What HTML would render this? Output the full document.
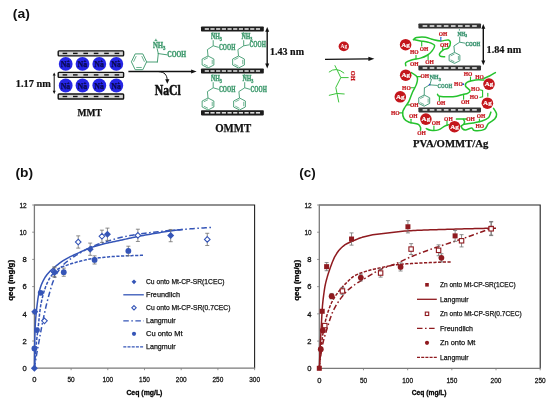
<!DOCTYPE html>
<html><head><meta charset="utf-8"><title>figure</title>
<style>
html,body{margin:0;padding:0;background:#fff;}
body{width:550px;height:403px;overflow:hidden;font-family:"Liberation Sans",sans-serif;}
svg{display:block;filter:blur(0.4px);}
svg text{white-space:pre;}
</style></head><body>
<svg width="550" height="403" viewBox="0 0 550 403">
<rect x="0" y="0" width="550" height="403" fill="#ffffff"/>
<text x="12.8" y="18.2" font-family="Liberation Sans" font-weight="bold" font-size="13.2" fill="#111" textLength="17" lengthAdjust="spacingAndGlyphs">(a)</text>
<rect x="58.2" y="50.9" width="65.4" height="5" rx="0.8" fill="#d4d4d4" stroke="#111" stroke-width="1.4"/><rect x="62.6" y="52.7" width="4.6" height="1.4" fill="#111"/><rect x="73" y="52.7" width="4.6" height="1.4" fill="#111"/><rect x="83.4" y="52.7" width="4.6" height="1.4" fill="#111"/><rect x="93.8" y="52.7" width="4.6" height="1.4" fill="#111"/><rect x="104.2" y="52.7" width="4.6" height="1.4" fill="#111"/><rect x="114.6" y="52.7" width="4.6" height="1.4" fill="#111"/>
<rect x="58.2" y="72.4" width="65.4" height="5" rx="0.8" fill="#d4d4d4" stroke="#111" stroke-width="1.4"/><rect x="62.6" y="74.2" width="4.6" height="1.4" fill="#111"/><rect x="73" y="74.2" width="4.6" height="1.4" fill="#111"/><rect x="83.4" y="74.2" width="4.6" height="1.4" fill="#111"/><rect x="93.8" y="74.2" width="4.6" height="1.4" fill="#111"/><rect x="104.2" y="74.2" width="4.6" height="1.4" fill="#111"/><rect x="114.6" y="74.2" width="4.6" height="1.4" fill="#111"/>
<rect x="58.2" y="94" width="65.4" height="5" rx="0.8" fill="#d4d4d4" stroke="#111" stroke-width="1.4"/><rect x="62.6" y="95.8" width="4.6" height="1.4" fill="#111"/><rect x="73" y="95.8" width="4.6" height="1.4" fill="#111"/><rect x="83.4" y="95.8" width="4.6" height="1.4" fill="#111"/><rect x="93.8" y="95.8" width="4.6" height="1.4" fill="#111"/><rect x="104.2" y="95.8" width="4.6" height="1.4" fill="#111"/><rect x="114.6" y="95.8" width="4.6" height="1.4" fill="#111"/>
<circle cx="65.7" cy="63.9" r="6.9" fill="#2626e6"/>
<text x="65.5" y="66.9" text-anchor="middle" font-family="Liberation Serif" font-weight="bold" font-size="7.8" fill="#0a0a50" stroke="#0a0a50" stroke-width="0.25">Na</text>
<text x="68.10000000000001" y="61.9" text-anchor="middle" font-family="Liberation Serif" font-weight="bold" font-size="5" fill="#0a0a50" stroke="#0a0a50" stroke-width="0.25">+</text>
<circle cx="82.5" cy="63.9" r="6.9" fill="#2626e6"/>
<text x="82.3" y="66.9" text-anchor="middle" font-family="Liberation Serif" font-weight="bold" font-size="7.8" fill="#0a0a50" stroke="#0a0a50" stroke-width="0.25">Na</text>
<text x="84.9" y="61.9" text-anchor="middle" font-family="Liberation Serif" font-weight="bold" font-size="5" fill="#0a0a50" stroke="#0a0a50" stroke-width="0.25">+</text>
<circle cx="99.3" cy="63.9" r="6.9" fill="#2626e6"/>
<text x="99.1" y="66.9" text-anchor="middle" font-family="Liberation Serif" font-weight="bold" font-size="7.8" fill="#0a0a50" stroke="#0a0a50" stroke-width="0.25">Na</text>
<text x="101.7" y="61.9" text-anchor="middle" font-family="Liberation Serif" font-weight="bold" font-size="5" fill="#0a0a50" stroke="#0a0a50" stroke-width="0.25">+</text>
<circle cx="116.3" cy="63.9" r="6.9" fill="#2626e6"/>
<text x="116.1" y="66.9" text-anchor="middle" font-family="Liberation Serif" font-weight="bold" font-size="7.8" fill="#0a0a50" stroke="#0a0a50" stroke-width="0.25">Na</text>
<text x="118.7" y="61.9" text-anchor="middle" font-family="Liberation Serif" font-weight="bold" font-size="5" fill="#0a0a50" stroke="#0a0a50" stroke-width="0.25">+</text>
<circle cx="65.7" cy="85.5" r="6.9" fill="#2626e6"/>
<text x="65.5" y="88.5" text-anchor="middle" font-family="Liberation Serif" font-weight="bold" font-size="7.8" fill="#0a0a50" stroke="#0a0a50" stroke-width="0.25">Na</text>
<text x="68.10000000000001" y="83.5" text-anchor="middle" font-family="Liberation Serif" font-weight="bold" font-size="5" fill="#0a0a50" stroke="#0a0a50" stroke-width="0.25">+</text>
<circle cx="82.5" cy="85.5" r="6.9" fill="#2626e6"/>
<text x="82.3" y="88.5" text-anchor="middle" font-family="Liberation Serif" font-weight="bold" font-size="7.8" fill="#0a0a50" stroke="#0a0a50" stroke-width="0.25">Na</text>
<text x="84.9" y="83.5" text-anchor="middle" font-family="Liberation Serif" font-weight="bold" font-size="5" fill="#0a0a50" stroke="#0a0a50" stroke-width="0.25">+</text>
<circle cx="99.3" cy="85.5" r="6.9" fill="#2626e6"/>
<text x="99.1" y="88.5" text-anchor="middle" font-family="Liberation Serif" font-weight="bold" font-size="7.8" fill="#0a0a50" stroke="#0a0a50" stroke-width="0.25">Na</text>
<text x="101.7" y="83.5" text-anchor="middle" font-family="Liberation Serif" font-weight="bold" font-size="5" fill="#0a0a50" stroke="#0a0a50" stroke-width="0.25">+</text>
<circle cx="116.3" cy="85.5" r="6.9" fill="#2626e6"/>
<text x="116.1" y="88.5" text-anchor="middle" font-family="Liberation Serif" font-weight="bold" font-size="7.8" fill="#0a0a50" stroke="#0a0a50" stroke-width="0.25">Na</text>
<text x="118.7" y="83.5" text-anchor="middle" font-family="Liberation Serif" font-weight="bold" font-size="5" fill="#0a0a50" stroke="#0a0a50" stroke-width="0.25">+</text>
<line x1="54.2" y1="74.96" x2="54.2" y2="91.44" stroke="#111" stroke-width="1.0"/><polygon points="54.2,94 52.7,90.8 55.7,90.8" fill="#111"/><polygon points="54.2,72.4 52.7,75.6 55.7,75.6" fill="#111"/>
<text x="15.8" y="86.7" font-family="Liberation Serif" font-weight="bold" font-size="9.8" fill="#111" stroke="#111" stroke-width="0.2" textLength="35" lengthAdjust="spacingAndGlyphs">1.17 nm</text>
<text x="77.6" y="116.2" font-family="Liberation Serif" font-weight="bold" font-size="10.4" fill="#111" stroke="#111" stroke-width="0.25" textLength="24.4" lengthAdjust="spacingAndGlyphs">MMT</text>
<line x1="128.4" y1="71.4" x2="192.2" y2="71.4" stroke="#111" stroke-width="1.5"/><polygon points="196.6,71.4 191.1,73.4 191.1,69.4" fill="#111"/>
<path d="M158.6,71.6 C164.6,72 167,75 167.2,80" fill="none" stroke="#111" stroke-width="1.0"/>
<polygon points="167.3,83.8 165.2,79.2 169.4,79.2" fill="#111"/>
<text x="154.8" y="95.3" font-family="Liberation Serif" font-weight="bold" font-size="14.6" fill="#111" stroke="#111" stroke-width="0.55" textLength="26" lengthAdjust="spacingAndGlyphs">NaCl</text>
<polygon points="131.4,61.8 135.2,53.9 142.8,53.9 146.6,61.8 142.8,69.7 135.2,69.7" fill="none" stroke="#3f9a6e" stroke-width="0.95"/><line x1="133.53" y1="61.8" x2="136.26" y2="56.11" stroke="#3f9a6e" stroke-width="0.76"/><line x1="141.74" y1="56.11" x2="144.47" y2="61.8" stroke="#3f9a6e" stroke-width="0.76"/><line x1="141.74" y1="67.49" x2="136.26" y2="67.49" stroke="#3f9a6e" stroke-width="0.76"/>
<line x1="146.6" y1="62" x2="157.4" y2="62" stroke="#3f9a6e" stroke-width="0.95" stroke-linecap="round"/>
<line x1="157.4" y1="62" x2="158.3" y2="53.6" stroke="#3f9a6e" stroke-width="0.95" stroke-linecap="round"/>
<line x1="158.3" y1="53.6" x2="166.8" y2="54.8" stroke="#3f9a6e" stroke-width="0.95" stroke-linecap="round"/>
<line x1="158.3" y1="53.6" x2="157.2" y2="48.8" stroke="#3f9a6e" stroke-width="0.95" stroke-linecap="round"/>
<text x="152.9" y="48" font-family="Liberation Serif" font-weight="bold" font-size="8.2" fill="#3f9a6e" stroke="#3f9a6e" stroke-width="0.4" textLength="12.6" lengthAdjust="spacingAndGlyphs">NH<tspan font-size="5.74" dy="2.05">3</tspan></text>
<text x="155.9" y="40.6" text-anchor="middle" font-family="Liberation Serif" font-weight="bold" font-size="5" fill="#3f9a6e" stroke="#3f9a6e" stroke-width="0.4">+</text>
<text x="167.2" y="57.4" font-family="Liberation Serif" font-weight="bold" font-size="7.6" fill="#3f9a6e" stroke="#3f9a6e" stroke-width="0.4" textLength="18.9" lengthAdjust="spacingAndGlyphs">COOH</text>
<rect x="201" y="26.4" width="62.8" height="5.2" rx="0.8" fill="#1c1c1c"/><rect x="204.74" y="28.2" width="4.2" height="1.6" fill="#dedede"/><rect x="210.42" y="28.2" width="4.2" height="1.6" fill="#dedede"/><rect x="216.1" y="28.2" width="4.2" height="1.6" fill="#dedede"/><rect x="221.78" y="28.2" width="4.2" height="1.6" fill="#dedede"/><rect x="227.46" y="28.2" width="4.2" height="1.6" fill="#dedede"/><rect x="233.14" y="28.2" width="4.2" height="1.6" fill="#dedede"/><rect x="238.82" y="28.2" width="4.2" height="1.6" fill="#dedede"/><rect x="244.5" y="28.2" width="4.2" height="1.6" fill="#dedede"/><rect x="250.18" y="28.2" width="4.2" height="1.6" fill="#dedede"/><rect x="255.86" y="28.2" width="4.2" height="1.6" fill="#dedede"/>
<rect x="201" y="68.4" width="62.8" height="5.2" rx="0.8" fill="#1c1c1c"/><rect x="204.74" y="70.2" width="4.2" height="1.6" fill="#dedede"/><rect x="210.42" y="70.2" width="4.2" height="1.6" fill="#dedede"/><rect x="216.1" y="70.2" width="4.2" height="1.6" fill="#dedede"/><rect x="221.78" y="70.2" width="4.2" height="1.6" fill="#dedede"/><rect x="227.46" y="70.2" width="4.2" height="1.6" fill="#dedede"/><rect x="233.14" y="70.2" width="4.2" height="1.6" fill="#dedede"/><rect x="238.82" y="70.2" width="4.2" height="1.6" fill="#dedede"/><rect x="244.5" y="70.2" width="4.2" height="1.6" fill="#dedede"/><rect x="250.18" y="70.2" width="4.2" height="1.6" fill="#dedede"/><rect x="255.86" y="70.2" width="4.2" height="1.6" fill="#dedede"/>
<rect x="201" y="110.2" width="62.8" height="5.2" rx="0.8" fill="#1c1c1c"/><rect x="204.74" y="112" width="4.2" height="1.6" fill="#dedede"/><rect x="210.42" y="112" width="4.2" height="1.6" fill="#dedede"/><rect x="216.1" y="112" width="4.2" height="1.6" fill="#dedede"/><rect x="221.78" y="112" width="4.2" height="1.6" fill="#dedede"/><rect x="227.46" y="112" width="4.2" height="1.6" fill="#dedede"/><rect x="233.14" y="112" width="4.2" height="1.6" fill="#dedede"/><rect x="238.82" y="112" width="4.2" height="1.6" fill="#dedede"/><rect x="244.5" y="112" width="4.2" height="1.6" fill="#dedede"/><rect x="250.18" y="112" width="4.2" height="1.6" fill="#dedede"/><rect x="255.86" y="112" width="4.2" height="1.6" fill="#dedede"/>
<text x="210.9" y="39.2" font-family="Liberation Serif" font-weight="bold" font-size="7.6" fill="#3f9a6e" stroke="#3f9a6e" stroke-width="0.4" textLength="11" lengthAdjust="spacingAndGlyphs">NH<tspan font-size="5.32" dy="1.9">3</tspan></text><line x1="212.9" y1="33.73" x2="212.9" y2="32.13" stroke="#3f9a6e" stroke-width="0.9"/><line x1="213.2" y1="40.2" x2="213.2" y2="45.8" stroke="#3f9a6e" stroke-width="0.9"/><line x1="213.2" y1="45.8" x2="218.8" y2="47.4" stroke="#3f9a6e" stroke-width="0.9"/><text x="219" y="49.9" font-family="Liberation Serif" font-weight="bold" font-size="7.37" fill="#3f9a6e" stroke="#3f9a6e" stroke-width="0.4" textLength="16.4" lengthAdjust="spacingAndGlyphs">COOH</text><line x1="213.2" y1="45.8" x2="207.4" y2="49.6" stroke="#3f9a6e" stroke-width="0.9"/><line x1="207.4" y1="49.6" x2="208" y2="56" stroke="#3f9a6e" stroke-width="0.9"/><polygon points="208,56 202.13,59 202.13,65 208,68 213.87,65 213.87,59" fill="none" stroke="#3f9a6e" stroke-width="0.9"/><line x1="208" y1="57.68" x2="203.77" y2="59.84" stroke="#3f9a6e" stroke-width="0.7200000000000001"/><line x1="203.77" y1="64.16" x2="208" y2="66.32" stroke="#3f9a6e" stroke-width="0.7200000000000001"/><line x1="212.23" y1="64.16" x2="212.23" y2="59.84" stroke="#3f9a6e" stroke-width="0.7200000000000001"/>
<text x="241.4" y="39.2" font-family="Liberation Serif" font-weight="bold" font-size="7.6" fill="#3f9a6e" stroke="#3f9a6e" stroke-width="0.4" textLength="11" lengthAdjust="spacingAndGlyphs">NH<tspan font-size="5.32" dy="1.9">3</tspan></text><line x1="243.4" y1="33.73" x2="243.4" y2="32.13" stroke="#3f9a6e" stroke-width="0.9"/><line x1="243.7" y1="40.2" x2="243.7" y2="45.8" stroke="#3f9a6e" stroke-width="0.9"/><line x1="243.7" y1="45.8" x2="249.3" y2="44.8" stroke="#3f9a6e" stroke-width="0.9"/><text x="249.5" y="47.3" font-family="Liberation Serif" font-weight="bold" font-size="7.37" fill="#3f9a6e" stroke="#3f9a6e" stroke-width="0.4" textLength="16.4" lengthAdjust="spacingAndGlyphs">COOH</text><line x1="243.7" y1="45.8" x2="237.9" y2="49.6" stroke="#3f9a6e" stroke-width="0.9"/><line x1="237.9" y1="49.6" x2="238.5" y2="56" stroke="#3f9a6e" stroke-width="0.9"/><polygon points="238.5,56 232.63,59 232.63,65 238.5,68 244.37,65 244.37,59" fill="none" stroke="#3f9a6e" stroke-width="0.9"/><line x1="238.5" y1="57.68" x2="234.27" y2="59.84" stroke="#3f9a6e" stroke-width="0.7200000000000001"/><line x1="234.27" y1="64.16" x2="238.5" y2="66.32" stroke="#3f9a6e" stroke-width="0.7200000000000001"/><line x1="242.73" y1="64.16" x2="242.73" y2="59.84" stroke="#3f9a6e" stroke-width="0.7200000000000001"/>
<text x="210.9" y="81.2" font-family="Liberation Serif" font-weight="bold" font-size="7.6" fill="#3f9a6e" stroke="#3f9a6e" stroke-width="0.4" textLength="11" lengthAdjust="spacingAndGlyphs">NH<tspan font-size="5.32" dy="1.9">3</tspan></text><line x1="212.9" y1="75.73" x2="212.9" y2="74.13" stroke="#3f9a6e" stroke-width="0.9"/><line x1="213.2" y1="82.2" x2="213.2" y2="87.8" stroke="#3f9a6e" stroke-width="0.9"/><line x1="213.2" y1="87.8" x2="218.8" y2="89.4" stroke="#3f9a6e" stroke-width="0.9"/><text x="219" y="91.9" font-family="Liberation Serif" font-weight="bold" font-size="7.37" fill="#3f9a6e" stroke="#3f9a6e" stroke-width="0.4" textLength="16.4" lengthAdjust="spacingAndGlyphs">COOH</text><line x1="213.2" y1="87.8" x2="207.4" y2="91.6" stroke="#3f9a6e" stroke-width="0.9"/><line x1="207.4" y1="91.6" x2="208" y2="98" stroke="#3f9a6e" stroke-width="0.9"/><polygon points="208,98 202.13,101 202.13,107 208,110 213.87,107 213.87,101" fill="none" stroke="#3f9a6e" stroke-width="0.9"/><line x1="208" y1="99.68" x2="203.77" y2="101.84" stroke="#3f9a6e" stroke-width="0.7200000000000001"/><line x1="203.77" y1="106.16" x2="208" y2="108.32" stroke="#3f9a6e" stroke-width="0.7200000000000001"/><line x1="212.23" y1="106.16" x2="212.23" y2="101.84" stroke="#3f9a6e" stroke-width="0.7200000000000001"/>
<text x="242.4" y="81.2" font-family="Liberation Serif" font-weight="bold" font-size="7.6" fill="#3f9a6e" stroke="#3f9a6e" stroke-width="0.4" textLength="11" lengthAdjust="spacingAndGlyphs">NH<tspan font-size="5.32" dy="1.9">3</tspan></text><line x1="244.4" y1="75.73" x2="244.4" y2="74.13" stroke="#3f9a6e" stroke-width="0.9"/><line x1="244.7" y1="82.2" x2="244.7" y2="87.8" stroke="#3f9a6e" stroke-width="0.9"/><line x1="244.7" y1="87.8" x2="250.3" y2="89.4" stroke="#3f9a6e" stroke-width="0.9"/><text x="250.5" y="91.9" font-family="Liberation Serif" font-weight="bold" font-size="7.37" fill="#3f9a6e" stroke="#3f9a6e" stroke-width="0.4" textLength="16.4" lengthAdjust="spacingAndGlyphs">COOH</text><line x1="244.7" y1="87.8" x2="238.9" y2="91.6" stroke="#3f9a6e" stroke-width="0.9"/><line x1="238.9" y1="91.6" x2="239.5" y2="98" stroke="#3f9a6e" stroke-width="0.9"/><polygon points="239.5,98 233.63,101 233.63,107 239.5,110 245.37,107 245.37,101" fill="none" stroke="#3f9a6e" stroke-width="0.9"/><line x1="239.5" y1="99.68" x2="235.27" y2="101.84" stroke="#3f9a6e" stroke-width="0.7200000000000001"/><line x1="235.27" y1="106.16" x2="239.5" y2="108.32" stroke="#3f9a6e" stroke-width="0.7200000000000001"/><line x1="243.73" y1="106.16" x2="243.73" y2="101.84" stroke="#3f9a6e" stroke-width="0.7200000000000001"/>
<line x1="267.2" y1="30.84" x2="267.2" y2="64.56" stroke="#111" stroke-width="1.4"/><polygon points="267.2,68.4 265.2,63.6 269.2,63.6" fill="#111"/><polygon points="267.2,27 265.2,31.8 269.2,31.8" fill="#111"/>
<text x="270.0" y="55.0" font-family="Liberation Serif" font-weight="bold" font-size="9.8" fill="#111" stroke="#111" stroke-width="0.2" textLength="34" lengthAdjust="spacingAndGlyphs">1.43 nm</text>
<text x="215.2" y="131.8" font-family="Liberation Serif" font-weight="bold" font-size="11.6" fill="#111" stroke="#111" stroke-width="0.25" textLength="36" lengthAdjust="spacingAndGlyphs">OMMT</text>
<line x1="325" y1="59.3" x2="369.6" y2="58.85" stroke="#111" stroke-width="1.3"/><polygon points="374.4,58.8 368.42,61.06 368.38,56.66" fill="#111"/>
<ellipse cx="343.8" cy="46.4" rx="5.2" ry="4.8" fill="#c4161c"/>
<text x="343.8" y="48.2" text-anchor="middle" font-family="Liberation Serif" font-weight="bold" font-size="5.4" fill="#fff">Ag</text>
<path d="M334.8,65.3 L340.8,77.6 L335.8,87.5 L338.8,102.4" fill="none" stroke="#3cc43c" stroke-width="1.0"/>
<path d="M340.8,77.6 L348.6,77.6" fill="none" stroke="#3cc43c" stroke-width="1.0"/>
<path d="M328.9,72.2 Q336,66.4 344.2,73.2" fill="none" stroke="#3cc43c" stroke-width="1.0"/>
<path d="M328.9,95.4 Q337,92.2 344.6,94" fill="none" stroke="#3cc43c" stroke-width="1.0"/>
<text transform="translate(350.9,70.8) rotate(90)" font-family="Liberation Serif" font-weight="bold" font-size="6.8" fill="#c4161c" stroke="#c4161c" stroke-width="0.3" textLength="10" lengthAdjust="spacingAndGlyphs">OH</text>
<rect x="418.4" y="23.5" width="62.6" height="5" rx="0.8" fill="#333"/><rect x="422.6" y="25.2" width="4.67" height="1.6" fill="#e6e6e6"/><rect x="429.68" y="25.2" width="4.67" height="1.6" fill="#e6e6e6"/><rect x="436.75" y="25.2" width="4.67" height="1.6" fill="#e6e6e6"/><rect x="443.83" y="25.2" width="4.67" height="1.6" fill="#e6e6e6"/><rect x="450.9" y="25.2" width="4.67" height="1.6" fill="#e6e6e6"/><rect x="457.98" y="25.2" width="4.67" height="1.6" fill="#e6e6e6"/><rect x="465.05" y="25.2" width="4.67" height="1.6" fill="#e6e6e6"/><rect x="472.13" y="25.2" width="4.67" height="1.6" fill="#e6e6e6"/>
<rect x="418.4" y="65.5" width="62.6" height="5" rx="0.8" fill="#333"/><rect x="422.6" y="67.2" width="4.67" height="1.6" fill="#e6e6e6"/><rect x="429.68" y="67.2" width="4.67" height="1.6" fill="#e6e6e6"/><rect x="436.75" y="67.2" width="4.67" height="1.6" fill="#e6e6e6"/><rect x="443.83" y="67.2" width="4.67" height="1.6" fill="#e6e6e6"/><rect x="450.9" y="67.2" width="4.67" height="1.6" fill="#e6e6e6"/><rect x="457.98" y="67.2" width="4.67" height="1.6" fill="#e6e6e6"/><rect x="465.05" y="67.2" width="4.67" height="1.6" fill="#e6e6e6"/><rect x="472.13" y="67.2" width="4.67" height="1.6" fill="#e6e6e6"/>
<rect x="418.4" y="107.4" width="62.6" height="5" rx="0.8" fill="#333"/><rect x="422.6" y="109.1" width="4.67" height="1.6" fill="#e6e6e6"/><rect x="429.68" y="109.1" width="4.67" height="1.6" fill="#e6e6e6"/><rect x="436.75" y="109.1" width="4.67" height="1.6" fill="#e6e6e6"/><rect x="443.83" y="109.1" width="4.67" height="1.6" fill="#e6e6e6"/><rect x="450.9" y="109.1" width="4.67" height="1.6" fill="#e6e6e6"/><rect x="457.98" y="109.1" width="4.67" height="1.6" fill="#e6e6e6"/><rect x="465.05" y="109.1" width="4.67" height="1.6" fill="#e6e6e6"/><rect x="472.13" y="109.1" width="4.67" height="1.6" fill="#e6e6e6"/>
<line x1="483.3" y1="27.84" x2="483.3" y2="61.36" stroke="#111" stroke-width="1.4"/><polygon points="483.3,65.2 481.3,60.4 485.3,60.4" fill="#111"/><polygon points="483.3,24 481.3,28.8 485.3,28.8" fill="#111"/>
<text x="486.6" y="52.6" font-family="Liberation Serif" font-weight="bold" font-size="9.8" fill="#111" stroke="#111" stroke-width="0.2" textLength="34.6" lengthAdjust="spacingAndGlyphs">1.84 nm</text>
<text x="413" y="146.6" font-family="Liberation Serif" font-weight="bold" font-size="10.2" fill="#111" stroke="#111" stroke-width="0.25" textLength="75.4" lengthAdjust="spacingAndGlyphs">PVA/OMMT/Ag</text>
<path d="M413.5,39.6 C414.02,39.27 414.6,37.98 416.6,37.6 C418.6,37.22 422.73,36.97 425.5,37.3 C428.27,37.63 430.65,39 433.2,39.6 C435.75,40.2 438.28,40.83 440.8,40.9 C443.32,40.97 446.7,39.68 448.3,40 C449.9,40.32 450.37,41.48 450.4,42.8 C450.43,44.12 449.67,46.73 448.5,47.9 C447.33,49.07 444.88,48.85 443.4,49.8 C441.92,50.75 440.13,52.53 439.6,53.6 C439.07,54.67 439.37,55.67 440.2,56.2 C441.03,56.73 443.87,56.7 444.6,56.8" fill="none" stroke="#25c22d" stroke-width="1.5" stroke-linecap="round" stroke-linejoin="round"/>
<path d="M413.5,39.6 C414.67,39.82 418.07,40.47 420.5,40.9 C422.93,41.33 425.77,41.45 428.1,42.2 C430.43,42.95 433.87,43.92 434.5,45.4 C435.13,46.88 433.18,49.42 431.9,51.1 C430.62,52.78 428.7,54.33 426.8,55.5 C424.9,56.67 423.05,57.35 420.5,58.1 C417.95,58.85 413.95,59.27 411.5,60 C409.05,60.73 406.75,61.55 405.8,62.5 C404.85,63.45 405.8,65.17 405.8,65.7" fill="none" stroke="#25c22d" stroke-width="1.5" stroke-linecap="round" stroke-linejoin="round"/>
<line x1="421.7" y1="42" x2="421.7" y2="46" stroke="#25c22d" stroke-width="1.15" stroke-linecap="round"/>
<line x1="416" y1="55.6" x2="416" y2="59" stroke="#25c22d" stroke-width="1.15" stroke-linecap="round"/>
<line x1="428.1" y1="55" x2="428.1" y2="59.4" stroke="#25c22d" stroke-width="1.15" stroke-linecap="round"/>
<line x1="440.8" y1="37.2" x2="440.8" y2="40.9" stroke="#2f6fd0" stroke-width="1.15" stroke-linecap="round"/>
<line x1="442.7" y1="46.6" x2="442.7" y2="49.8" stroke="#25c22d" stroke-width="1.15" stroke-linecap="round"/>
<text x="443.1" y="36.37" text-anchor="middle" font-family="Liberation Serif" font-weight="bold" font-size="5.5" fill="#c4161c" stroke="#c4161c" stroke-width="0.22">OH</text>
<text x="444.2" y="46.87" text-anchor="middle" font-family="Liberation Serif" font-weight="bold" font-size="5.5" fill="#c4161c" stroke="#c4161c" stroke-width="0.22">OH</text>
<text x="424" y="50.67" text-anchor="middle" font-family="Liberation Serif" font-weight="bold" font-size="5.5" fill="#c4161c" stroke="#c4161c" stroke-width="0.22">OH</text>
<text x="414.3" y="53.87" text-anchor="middle" font-family="Liberation Serif" font-weight="bold" font-size="5.5" fill="#c4161c" stroke="#c4161c" stroke-width="0.22">HO</text>
<text x="429.6" y="64.37" text-anchor="middle" font-family="Liberation Serif" font-weight="bold" font-size="5.5" fill="#c4161c" stroke="#c4161c" stroke-width="0.22">OH</text>
<text x="414.2" y="65.67" text-anchor="middle" font-family="Liberation Serif" font-weight="bold" font-size="5.5" fill="#c4161c" stroke="#c4161c" stroke-width="0.22">OH</text>
<text x="457.4" y="35.6" font-family="Liberation Serif" font-weight="bold" font-size="6.8" fill="#3a9470" stroke="#3a9470" stroke-width="0.4" textLength="9.6" lengthAdjust="spacingAndGlyphs">NH<tspan font-size="4.76" dy="1.7">3</tspan></text><line x1="459.4" y1="30.7" x2="459.4" y2="29.1" stroke="#3a9470" stroke-width="0.9"/><line x1="459.7" y1="36.6" x2="459.7" y2="42.2" stroke="#3a9470" stroke-width="0.9"/><line x1="459.7" y1="42.2" x2="465.3" y2="43.2" stroke="#3a9470" stroke-width="0.9"/><text x="465.5" y="45.7" font-family="Liberation Serif" font-weight="bold" font-size="6.6" fill="#3a9470" stroke="#3a9470" stroke-width="0.4" textLength="14.6" lengthAdjust="spacingAndGlyphs">COOH</text><line x1="459.7" y1="42.2" x2="453.9" y2="46" stroke="#3a9470" stroke-width="0.9"/><line x1="453.9" y1="46" x2="454.5" y2="52.4" stroke="#3a9470" stroke-width="0.9"/><polygon points="454.5,52.4 449.12,55.15 449.12,60.65 454.5,63.4 459.88,60.65 459.88,55.15" fill="none" stroke="#3a9470" stroke-width="0.9"/><line x1="454.5" y1="53.94" x2="450.62" y2="55.92" stroke="#3a9470" stroke-width="0.7200000000000001"/><line x1="450.62" y1="59.88" x2="454.5" y2="61.86" stroke="#3a9470" stroke-width="0.7200000000000001"/><line x1="458.38" y1="59.88" x2="458.38" y2="55.92" stroke="#3a9470" stroke-width="0.7200000000000001"/>
<path d="M411.2,72.6 C412.2,73.35 416.32,75.18 417.2,77.1 C418.08,79.02 417.25,81.67 416.5,84.1 C415.75,86.53 413.97,88.83 412.7,91.7 C411.43,94.57 410.17,98.75 408.9,101.3 C407.63,103.85 406.13,105.2 405.1,107 C404.07,108.8 402.88,110.18 402.7,112.1 C402.52,114.02 402.93,116.8 404,118.5 C405.07,120.2 406.77,121.35 409.1,122.3 C411.43,123.25 416.1,123.35 418,124.2 C419.9,125.05 420.08,126.4 420.5,127.4 C420.92,128.4 420.5,129.73 420.5,130.2" fill="none" stroke="#25c22d" stroke-width="1.5" stroke-linecap="round" stroke-linejoin="round"/>
<line x1="417.2" y1="76.6" x2="420.6" y2="76.6" stroke="#25c22d" stroke-width="1.15" stroke-linecap="round"/>
<line x1="410.8" y1="87.7" x2="414.4" y2="87.7" stroke="#25c22d" stroke-width="1.15" stroke-linecap="round"/>
<line x1="407" y1="104.8" x2="410.6" y2="104.8" stroke="#25c22d" stroke-width="1.15" stroke-linecap="round"/>
<line x1="399.6" y1="112.8" x2="402.7" y2="112.8" stroke="#25c22d" stroke-width="1.15" stroke-linecap="round"/>
<line x1="411" y1="119.2" x2="411" y2="123" stroke="#25c22d" stroke-width="1.15" stroke-linecap="round"/>
<text x="424.8" y="78.47" text-anchor="middle" font-family="Liberation Serif" font-weight="bold" font-size="5.5" fill="#c4161c" stroke="#c4161c" stroke-width="0.22">OH</text>
<text x="406.4" y="89.57" text-anchor="middle" font-family="Liberation Serif" font-weight="bold" font-size="5.5" fill="#c4161c" stroke="#c4161c" stroke-width="0.22">HO</text>
<text x="414.2" y="106.67" text-anchor="middle" font-family="Liberation Serif" font-weight="bold" font-size="5.5" fill="#c4161c" stroke="#c4161c" stroke-width="0.22">OH</text>
<text x="395.2" y="114.97" text-anchor="middle" font-family="Liberation Serif" font-weight="bold" font-size="5.5" fill="#c4161c" stroke="#c4161c" stroke-width="0.22">HO</text>
<text x="413.3" y="117.77" text-anchor="middle" font-family="Liberation Serif" font-weight="bold" font-size="5.5" fill="#c4161c" stroke="#c4161c" stroke-width="0.22">OH</text>
<text x="421.6" y="134.77" text-anchor="middle" font-family="Liberation Serif" font-weight="bold" font-size="5.5" fill="#c4161c" stroke="#c4161c" stroke-width="0.22">OH</text>
<text x="429.4" y="79" font-family="Liberation Serif" font-weight="bold" font-size="6.2" fill="#3a9470" stroke="#3a9470" stroke-width="0.3">NH<tspan font-size="4.34" dy="1.55">3</tspan></text>
<line x1="431.4" y1="79.4" x2="430" y2="84.4" stroke="#3a9470" stroke-width="0.9" stroke-linecap="round"/>
<circle cx="429.6" cy="84.7" r="0.9" fill="#2040d0"/>
<line x1="430.4" y1="84.9" x2="437.2" y2="85.4" stroke="#3a9470" stroke-width="0.9" stroke-linecap="round"/>
<text x="437.6" y="87.6" font-family="Liberation Serif" font-weight="bold" font-size="6.2" fill="#3a9470" stroke="#3a9470" stroke-width="0.3" textLength="14.6" lengthAdjust="spacingAndGlyphs">COOH</text>
<line x1="429" y1="85.2" x2="424.4" y2="88" stroke="#3a9470" stroke-width="0.9" stroke-linecap="round"/>
<line x1="424.4" y1="88" x2="424.2" y2="95" stroke="#3a9470" stroke-width="0.9" stroke-linecap="round"/>
<polygon points="424.2,95 418.72,97.8 418.72,103.4 424.2,106.2 429.68,103.4 429.68,97.8" fill="none" stroke="#3a9470" stroke-width="0.9"/><line x1="424.2" y1="96.57" x2="420.25" y2="98.58" stroke="#3a9470" stroke-width="0.7200000000000001"/><line x1="420.25" y1="102.62" x2="424.2" y2="104.63" stroke="#3a9470" stroke-width="0.7200000000000001"/><line x1="428.15" y1="102.62" x2="428.15" y2="98.58" stroke="#3a9470" stroke-width="0.7200000000000001"/>
<path d="M437.5,94.3 C437.83,94.62 437.58,95.78 439.5,96.2 C441.42,96.62 446.15,96.8 449,96.8 C451.85,96.8 454.27,96.6 456.6,96.2 C458.93,95.8 461.17,94.87 463,94.4 C464.83,93.93 466.45,94.05 467.6,93.4 C468.75,92.75 470.25,91.73 469.9,90.5 C469.55,89.27 465.92,87.38 465.5,86 C465.08,84.62 465.72,83.2 467.4,82.2 C469.08,81.2 472.85,80.37 475.6,80 C478.35,79.63 482.52,80 483.9,80" fill="none" stroke="#25c22d" stroke-width="1.5" stroke-linecap="round" stroke-linejoin="round"/>
<path d="M483.9,78.4 C484.83,78 487.58,76.97 489.5,76 C491.42,75.03 494.42,73.17 495.4,72.6" fill="none" stroke="#25c22d" stroke-width="1.5" stroke-linecap="round" stroke-linejoin="round"/>
<line x1="439.4" y1="96.6" x2="439.4" y2="100.6" stroke="#25c22d" stroke-width="1.15" stroke-linecap="round"/>
<line x1="463.6" y1="94.4" x2="463.6" y2="99.2" stroke="#25c22d" stroke-width="1.15" stroke-linecap="round"/>
<line x1="470.5" y1="77" x2="470.5" y2="80.8" stroke="#25c22d" stroke-width="1.15" stroke-linecap="round"/>
<path d="M479.5,89.8 L482.6,90.5 L482.6,96.8 L479.5,97.5" fill="none" stroke="#25c22d" stroke-width="1.1"/>
<line x1="487.8" y1="93.4" x2="487.8" y2="96.2" stroke="#25c22d" stroke-width="1.15" stroke-linecap="round"/>
<text x="441.1" y="104.67" text-anchor="middle" font-family="Liberation Serif" font-weight="bold" font-size="5.5" fill="#c4161c" stroke="#c4161c" stroke-width="0.22">OH</text>
<text x="465.2" y="103.77" text-anchor="middle" font-family="Liberation Serif" font-weight="bold" font-size="5.5" fill="#c4161c" stroke="#c4161c" stroke-width="0.22">OH</text>
<text x="468" y="76.37" text-anchor="middle" font-family="Liberation Serif" font-weight="bold" font-size="5.5" fill="#c4161c" stroke="#c4161c" stroke-width="0.22">HO</text>
<text x="479.6" y="79.17" text-anchor="middle" font-family="Liberation Serif" font-weight="bold" font-size="5.5" fill="#c4161c" stroke="#c4161c" stroke-width="0.22">HO</text>
<text x="458.4" y="86.17" text-anchor="middle" font-family="Liberation Serif" font-weight="bold" font-size="5.5" fill="#c4161c" stroke="#c4161c" stroke-width="0.22">HO</text>
<text x="475.4" y="90.67" text-anchor="middle" font-family="Liberation Serif" font-weight="bold" font-size="5.5" fill="#c4161c" stroke="#c4161c" stroke-width="0.22">HO</text>
<text x="474.1" y="99.37" text-anchor="middle" font-family="Liberation Serif" font-weight="bold" font-size="5.5" fill="#c4161c" stroke="#c4161c" stroke-width="0.22">HO</text>
<circle cx="463.2" cy="84.2" r="0.9" fill="#2040d0"/>
<path d="M426.3,128.6 C427.03,128.88 428.68,130.08 430.7,130.3 C432.72,130.52 436.07,130.6 438.4,129.9 C440.73,129.2 443.02,126.95 444.7,126.1 C446.38,125.25 447.87,125.02 448.5,124.8" fill="none" stroke="#25c22d" stroke-width="1.5" stroke-linecap="round" stroke-linejoin="round"/>
<line x1="433.9" y1="126" x2="433.9" y2="130" stroke="#25c22d" stroke-width="1.15" stroke-linecap="round"/>
<line x1="447" y1="121" x2="447" y2="125.4" stroke="#25c22d" stroke-width="1.15" stroke-linecap="round"/>
<text x="436.1" y="124.77" text-anchor="middle" font-family="Liberation Serif" font-weight="bold" font-size="5.5" fill="#c4161c" stroke="#c4161c" stroke-width="0.22">OH</text>
<text x="448.4" y="120.67" text-anchor="middle" font-family="Liberation Serif" font-weight="bold" font-size="5.5" fill="#c4161c" stroke="#c4161c" stroke-width="0.22">OH</text>
<path d="M490.9,112.1 C490.48,113.05 489.88,116.32 488.4,117.8 C486.92,119.28 484.55,120.15 482,121 C479.45,121.85 476.07,122.37 473.1,122.9 C470.13,123.43 466.22,123.67 464.2,124.2 C462.18,124.73 461.53,125.78 461,126.1" fill="none" stroke="#25c22d" stroke-width="1.5" stroke-linecap="round" stroke-linejoin="round"/>
<path d="M493.5,108.3 C494.02,109.25 496.4,112.2 496.6,114 C496.8,115.8 496.07,117.52 494.7,119.1 C493.33,120.68 490.1,121.8 488.4,123.5 C486.7,125.2 486.83,128.13 484.5,129.3 C482.17,130.47 476.52,130.72 474.4,130.5 C472.28,130.28 473.28,128.1 471.8,128 C470.32,127.9 467.08,129.8 465.5,129.9 C463.92,130 462.98,129.22 462.3,128.6 C461.62,127.98 461.55,126.6 461.4,126.2" fill="none" stroke="#25c22d" stroke-width="1.5" stroke-linecap="round" stroke-linejoin="round"/>
<path d="M456.5,119.1 C457.35,119.07 459.92,118.9 461.6,118.9 C463.28,118.9 465.77,119.07 466.6,119.1" fill="none" stroke="#25c22d" stroke-width="1.5" stroke-linecap="round" stroke-linejoin="round"/>
<path d="M463.4,119.4 C463.6,119.77 464.5,120.87 464.6,121.6 C464.7,122.33 464.1,123.43 464,123.8" fill="none" stroke="#25c22d" stroke-width="1.5" stroke-linecap="round" stroke-linejoin="round"/>
<line x1="479.4" y1="119" x2="479.4" y2="121.8" stroke="#25c22d" stroke-width="1.15" stroke-linecap="round"/>
<text x="481" y="117.77" text-anchor="middle" font-family="Liberation Serif" font-weight="bold" font-size="5.5" fill="#c4161c" stroke="#c4161c" stroke-width="0.22">OH</text>
<text x="470.5" y="120.97" text-anchor="middle" font-family="Liberation Serif" font-weight="bold" font-size="5.5" fill="#c4161c" stroke="#c4161c" stroke-width="0.22">OH</text>
<text x="479.7" y="127.67" text-anchor="middle" font-family="Liberation Serif" font-weight="bold" font-size="5.5" fill="#c4161c" stroke="#c4161c" stroke-width="0.22">HO</text>
<circle cx="405.6" cy="44.7" r="5.8" fill="#c4161c"/><text x="405.6" y="46.8" text-anchor="middle" font-family="Liberation Serif" font-weight="bold" font-size="7" fill="#fff" stroke="#fff" stroke-width="0.2">Ag</text>
<circle cx="405.7" cy="75.2" r="5.8" fill="#c4161c"/><text x="405.7" y="77.3" text-anchor="middle" font-family="Liberation Serif" font-weight="bold" font-size="7" fill="#fff" stroke="#fff" stroke-width="0.2">Ag</text>
<circle cx="400.3" cy="96.8" r="5.8" fill="#c4161c"/><text x="400.3" y="98.9" text-anchor="middle" font-family="Liberation Serif" font-weight="bold" font-size="7" fill="#fff" stroke="#fff" stroke-width="0.2">Ag</text>
<circle cx="489" cy="84.1" r="5.8" fill="#c4161c"/><text x="489" y="86.2" text-anchor="middle" font-family="Liberation Serif" font-weight="bold" font-size="7" fill="#fff" stroke="#fff" stroke-width="0.2">Ag</text>
<circle cx="487.4" cy="103.2" r="5.8" fill="#c4161c"/><text x="487.4" y="105.3" text-anchor="middle" font-family="Liberation Serif" font-weight="bold" font-size="7" fill="#fff" stroke="#fff" stroke-width="0.2">Ag</text>
<circle cx="425.9" cy="119.1" r="5.8" fill="#c4161c"/><text x="425.9" y="121.2" text-anchor="middle" font-family="Liberation Serif" font-weight="bold" font-size="7" fill="#fff" stroke="#fff" stroke-width="0.2">Ag</text>
<circle cx="454.5" cy="126.7" r="5.8" fill="#c4161c"/><text x="454.5" y="128.8" text-anchor="middle" font-family="Liberation Serif" font-weight="bold" font-size="7" fill="#fff" stroke="#fff" stroke-width="0.2">Ag</text>
<text x="15.4" y="176.6" font-family="Liberation Sans" font-weight="bold" font-size="13.4" fill="#111" textLength="17.6" lengthAdjust="spacingAndGlyphs">(b)</text><path d="M34.4,205 H254.6 V368.2" fill="none" stroke="#222" stroke-width="1.1"/><path d="M34.4,204.5 V368.2 H255.1" fill="none" stroke="#7a7a7a" stroke-width="1.3"/><line x1="32.2" y1="368.2" x2="34.4" y2="368.2" stroke="#7a7a7a" stroke-width="0.8"/><text x="26.7" y="370.9" text-anchor="end" font-family="Liberation Sans" font-size="7.6" fill="#111" stroke="#111" stroke-width="0.28">0</text><line x1="32.2" y1="341" x2="34.4" y2="341" stroke="#7a7a7a" stroke-width="0.8"/><text x="26.7" y="343.7" text-anchor="end" font-family="Liberation Sans" font-size="7.6" fill="#111" stroke="#111" stroke-width="0.28">2</text><line x1="32.2" y1="313.8" x2="34.4" y2="313.8" stroke="#7a7a7a" stroke-width="0.8"/><text x="26.7" y="316.5" text-anchor="end" font-family="Liberation Sans" font-size="7.6" fill="#111" stroke="#111" stroke-width="0.28">4</text><line x1="32.2" y1="286.6" x2="34.4" y2="286.6" stroke="#7a7a7a" stroke-width="0.8"/><text x="26.7" y="289.3" text-anchor="end" font-family="Liberation Sans" font-size="7.6" fill="#111" stroke="#111" stroke-width="0.28">6</text><line x1="32.2" y1="259.4" x2="34.4" y2="259.4" stroke="#7a7a7a" stroke-width="0.8"/><text x="26.7" y="262.1" text-anchor="end" font-family="Liberation Sans" font-size="7.6" fill="#111" stroke="#111" stroke-width="0.28">8</text><line x1="32.2" y1="232.2" x2="34.4" y2="232.2" stroke="#7a7a7a" stroke-width="0.8"/><text x="26.7" y="234.9" text-anchor="end" font-family="Liberation Sans" font-size="7.6" fill="#111" stroke="#111" stroke-width="0.28" textLength="7.2" lengthAdjust="spacingAndGlyphs">10</text><line x1="32.2" y1="205" x2="34.4" y2="205" stroke="#7a7a7a" stroke-width="0.8"/><text x="26.7" y="207.7" text-anchor="end" font-family="Liberation Sans" font-size="7.6" fill="#111" stroke="#111" stroke-width="0.28" textLength="7.2" lengthAdjust="spacingAndGlyphs">12</text><line x1="34.4" y1="368.2" x2="34.4" y2="370.2" stroke="#7a7a7a" stroke-width="0.8"/><text x="34.4" y="382.4" text-anchor="middle" font-family="Liberation Sans" font-size="7.6" fill="#111" stroke="#111" stroke-width="0.28">0</text><line x1="71.1" y1="368.2" x2="71.1" y2="370.2" stroke="#7a7a7a" stroke-width="0.8"/><text x="71.1" y="382.4" text-anchor="middle" font-family="Liberation Sans" font-size="7.6" fill="#111" stroke="#111" stroke-width="0.28" textLength="7.2" lengthAdjust="spacingAndGlyphs">50</text><line x1="107.8" y1="368.2" x2="107.8" y2="370.2" stroke="#7a7a7a" stroke-width="0.8"/><text x="107.8" y="382.4" text-anchor="middle" font-family="Liberation Sans" font-size="7.6" fill="#111" stroke="#111" stroke-width="0.28" textLength="10.8" lengthAdjust="spacingAndGlyphs">100</text><line x1="144.5" y1="368.2" x2="144.5" y2="370.2" stroke="#7a7a7a" stroke-width="0.8"/><text x="144.5" y="382.4" text-anchor="middle" font-family="Liberation Sans" font-size="7.6" fill="#111" stroke="#111" stroke-width="0.28" textLength="10.8" lengthAdjust="spacingAndGlyphs">150</text><line x1="181.2" y1="368.2" x2="181.2" y2="370.2" stroke="#7a7a7a" stroke-width="0.8"/><text x="181.2" y="382.4" text-anchor="middle" font-family="Liberation Sans" font-size="7.6" fill="#111" stroke="#111" stroke-width="0.28" textLength="10.8" lengthAdjust="spacingAndGlyphs">200</text><line x1="217.9" y1="368.2" x2="217.9" y2="370.2" stroke="#7a7a7a" stroke-width="0.8"/><text x="217.9" y="382.4" text-anchor="middle" font-family="Liberation Sans" font-size="7.6" fill="#111" stroke="#111" stroke-width="0.28" textLength="10.8" lengthAdjust="spacingAndGlyphs">250</text><line x1="254.6" y1="368.2" x2="254.6" y2="370.2" stroke="#7a7a7a" stroke-width="0.8"/><text x="254.6" y="382.4" text-anchor="middle" font-family="Liberation Sans" font-size="7.6" fill="#111" stroke="#111" stroke-width="0.28" textLength="10.8" lengthAdjust="spacingAndGlyphs">300</text><text transform="translate(12.6,300.8) rotate(-90)" font-family="Liberation Sans" font-weight="bold" font-size="7.6" fill="#000" stroke="#000" stroke-width="0.3" textLength="41" lengthAdjust="spacingAndGlyphs">qeq (mg/g)</text><text x="126.4" y="395.2" font-family="Liberation Sans" font-weight="bold" font-size="7.6" fill="#000" stroke="#000" stroke-width="0.3" textLength="36" lengthAdjust="spacingAndGlyphs">Ceq (mg/L)</text><path d="M34.4,368.2 L34.59,353.67 L34.78,340.76 L34.96,332.11 L35.15,327.59 L35.34,323.9 L35.53,320.85 L35.72,318.31 L35.91,316.16 L36.09,314.25 L36.28,312.44 L36.47,310.64 L36.66,308.88 L36.85,307.19 L37.03,305.57 L37.22,304.01 L37.41,302.53 L37.6,301.11 L37.79,299.76 L37.98,298.47 L38.16,297.26 L38.35,296.12 L38.54,295.05 L38.73,294.04 L38.92,293.11 L39.11,292.25 L39.29,291.46 L39.48,290.72 L39.67,290.02 L39.86,289.34 L40.05,288.69 L40.23,288.07 L40.42,287.47 L40.61,286.89 L40.8,286.33 L40.99,285.8 L41.18,285.29 L41.36,284.79 L41.55,284.31 L41.74,283.85 L41.74,283.85 L43.52,280.04 L45.31,276.94 L47.09,274.5 L48.88,272.44 L50.66,270.63 L52.44,268.98 L54.23,267.44 L56.01,265.96 L57.8,264.55 L59.58,263.2 L61.36,261.93 L63.15,260.73 L64.93,259.61 L66.71,258.56 L68.5,257.59 L70.28,256.68 L72.07,255.82 L73.85,254.99 L75.63,254.18 L77.42,253.37 L79.2,252.56 L80.99,251.74 L82.77,250.93 L84.55,250.14 L86.34,249.37 L88.12,248.65 L89.91,247.99 L91.69,247.38 L93.47,246.8 L95.26,246.24 L97.04,245.71 L98.82,245.21 L100.61,244.72 L102.39,244.25 L104.18,243.79 L105.96,243.35 L107.74,242.93 L109.53,242.53 L111.31,242.15 L113.1,241.78 L114.88,241.41 L116.66,241.05 L118.45,240.68 L120.23,240.31 L122.02,239.92 L123.8,239.54 L125.58,239.14 L127.37,238.75 L129.15,238.35 L130.93,237.96 L132.72,237.56 L134.5,237.18 L136.29,236.8 L138.07,236.43 L139.85,236.07 L141.64,235.72 L143.42,235.39 L145.21,235.07 L146.99,234.75 L148.77,234.44 L150.56,234.14 L152.34,233.83 L154.13,233.54 L155.91,233.24 L157.69,232.95 L159.48,232.67 L161.26,232.38 L163.05,232.11 L164.83,231.84 L166.61,231.57 L168.4,231.32 L170.18,231.06 L171.96,230.82 L173.75,230.58 L175.53,230.34 L177.32,230.12 L179.1,229.9 L180.88,229.68 L182.67,229.48 " fill="none" stroke="#3555b7" stroke-width="1.5" stroke-linejoin="round"/><path d="M34.4,368.2 L34.59,366.99 L34.78,365.78 L34.96,364.58 L35.15,363.4 L35.34,362.22 L35.53,361.05 L35.72,359.89 L35.91,358.74 L36.09,357.61 L36.28,356.48 L36.47,355.37 L36.66,354.27 L36.85,353.18 L37.03,352.11 L37.22,351.05 L37.41,349.99 L37.6,348.95 L37.79,347.91 L37.98,346.88 L38.16,345.86 L38.35,344.84 L38.54,343.83 L38.73,342.81 L38.92,341.8 L39.11,340.79 L39.29,339.77 L39.48,338.76 L39.67,337.74 L39.86,336.72 L40.05,335.69 L40.23,334.67 L40.42,333.66 L40.61,332.64 L40.8,331.62 L40.99,330.61 L41.18,329.61 L41.36,328.61 L41.55,327.62 L41.74,326.63 L41.74,326.63 L43.9,315.96 L46.05,306.2 L48.21,297.59 L50.36,289.93 L52.52,282.99 L54.67,277.43 L56.83,273.39 L58.98,270 L61.14,267.17 L63.3,264.78 L65.45,262.78 L67.61,261.06 L69.76,259.47 L71.92,257.97 L74.07,256.56 L76.23,255.23 L78.38,253.95 L80.54,252.71 L82.7,251.46 L84.85,250.22 L87.01,249 L89.16,247.85 L91.32,246.82 L93.47,245.91 L95.63,245.09 L97.78,244.33 L99.94,243.62 L102.1,242.93 L104.25,242.26 L106.41,241.58 L108.56,240.9 L110.72,240.22 L112.87,239.56 L115.03,238.93 L117.18,238.34 L119.34,237.79 L121.5,237.29 L123.65,236.82 L125.81,236.37 L127.96,235.94 L130.12,235.53 L132.27,235.14 L134.43,234.78 L136.58,234.44 L138.74,234.12 L140.9,233.81 L143.05,233.52 L145.21,233.23 L147.36,232.95 L149.52,232.68 L151.67,232.42 L153.83,232.17 L155.98,231.93 L158.14,231.69 L160.29,231.46 L162.45,231.24 L164.61,231.02 L166.76,230.81 L168.92,230.61 L171.07,230.41 L173.23,230.22 L175.38,230.03 L177.54,229.84 L179.69,229.66 L181.85,229.48 L184.01,229.3 L186.16,229.13 L188.32,228.96 L190.47,228.8 L192.63,228.64 L194.78,228.49 L196.94,228.34 L199.09,228.19 L201.25,228.05 L203.41,227.92 L205.56,227.79 L207.72,227.67 L209.87,227.55 L212.03,227.44 " fill="none" stroke="#3555b7" stroke-width="1.5" stroke-dasharray="5.5 2.5 1.6 2.5" stroke-linejoin="round"/><path d="M34.4,368.2 L34.59,365.4 L34.78,362.67 L34.96,360.03 L35.15,357.47 L35.34,355 L35.53,352.61 L35.72,350.3 L35.91,348.09 L36.09,345.97 L36.28,343.94 L36.47,342.01 L36.66,340.21 L36.85,338.51 L37.03,336.89 L37.22,335.33 L37.41,333.78 L37.6,332.23 L37.79,330.65 L37.98,329.02 L38.16,327.32 L38.35,325.58 L38.54,323.8 L38.73,322.01 L38.92,320.22 L39.11,318.43 L39.29,316.67 L39.48,314.95 L39.67,313.28 L39.86,311.68 L40.05,310.16 L40.23,308.74 L40.42,307.42 L40.61,306.23 L40.8,305.16 L40.99,304.14 L41.18,303.16 L41.36,302.2 L41.55,301.27 L41.74,300.38 L41.74,300.38 L43.04,294.9 L44.34,290.48 L45.64,286.81 L46.94,283.59 L48.24,280.8 L49.54,278.42 L50.85,276.44 L52.15,274.67 L53.45,273.07 L54.75,271.66 L56.05,270.46 L57.35,269.48 L58.65,268.68 L59.95,267.99 L61.25,267.37 L62.55,266.82 L63.85,266.31 L65.15,265.82 L66.45,265.34 L67.76,264.87 L69.06,264.41 L70.36,263.98 L71.66,263.56 L72.96,263.16 L74.26,262.78 L75.56,262.41 L76.86,262.06 L78.16,261.73 L79.46,261.4 L80.76,261.07 L82.06,260.75 L83.36,260.44 L84.67,260.14 L85.97,259.85 L87.27,259.57 L88.57,259.31 L89.87,259.06 L91.17,258.83 L92.47,258.63 L93.77,258.45 L95.07,258.28 L96.37,258.13 L97.67,257.97 L98.97,257.82 L100.27,257.68 L101.57,257.54 L102.88,257.41 L104.18,257.28 L105.48,257.15 L106.78,257.04 L108.08,256.92 L109.38,256.82 L110.68,256.72 L111.98,256.62 L113.28,256.53 L114.58,256.44 L115.88,256.36 L117.18,256.28 L118.48,256.21 L119.79,256.15 L121.09,256.08 L122.39,256.02 L123.69,255.96 L124.99,255.9 L126.29,255.84 L127.59,255.79 L128.89,255.73 L130.19,255.68 L131.49,255.63 L132.79,255.58 L134.09,255.54 L135.39,255.5 L136.7,255.46 L138,255.42 L139.3,255.39 L140.6,255.37 L141.9,255.35 L143.2,255.33 L144.5,255.32 " fill="none" stroke="#3555b7" stroke-width="1.5" stroke-dasharray="3.2 1.5" stroke-linejoin="round"/><path d="M54.22,266.88 V276.4 M52.22,266.88 H56.22 M52.22,276.4 H56.22" fill="none" stroke="#707070" stroke-width="0.8"/><path d="M54.58,267.83 V277.35 M52.58,267.83 H56.58 M52.58,277.35 H56.58" fill="none" stroke="#707070" stroke-width="0.8"/><path d="M90.18,243.08 V255.32 M88.18,243.08 H92.18 M88.18,255.32 H92.18" fill="none" stroke="#707070" stroke-width="0.8"/><path d="M107.43,228.12 V240.36 M105.43,228.12 H109.43 M105.43,240.36 H109.43" fill="none" stroke="#707070" stroke-width="0.8"/><path d="M170.7,229.48 V241.72 M168.7,229.48 H172.7 M168.7,241.72 H172.7" fill="none" stroke="#707070" stroke-width="0.8"/><path d="M78.22,235.87 V248.11 M76.22,235.87 H80.22 M76.22,248.11 H80.22" fill="none" stroke="#707070" stroke-width="0.8"/><path d="M101.93,230.16 V242.4 M99.93,230.16 H103.93 M99.93,242.4 H103.93" fill="none" stroke="#707070" stroke-width="0.8"/><path d="M137.89,229.21 V241.45 M135.89,229.21 H139.89 M135.89,241.45 H139.89" fill="none" stroke="#707070" stroke-width="0.8"/><path d="M207.26,233.29 V245.53 M205.26,233.29 H209.26 M205.26,245.53 H209.26" fill="none" stroke="#707070" stroke-width="0.8"/><path d="M63.76,268.1 V276.26 M61.76,268.1 H65.76 M61.76,276.26 H65.76" fill="none" stroke="#707070" stroke-width="0.8"/><path d="M94.59,255.86 V264.02 M92.59,255.86 H96.59 M92.59,264.02 H96.59" fill="none" stroke="#707070" stroke-width="0.8"/><path d="M128.35,246.21 V255.73 M126.35,246.21 H130.35 M126.35,255.73 H130.35" fill="none" stroke="#707070" stroke-width="0.8"/><polygon points="54.22,268.84 57.02,271.64 54.22,274.44 51.42,271.64" fill="#fff" stroke="#3555b7" stroke-width="1.1"/><polygon points="34.4,364.7 37.9,368.2 34.4,371.7 30.9,368.2" fill="#3555b7"/><polygon points="34.77,308.26 38.27,311.76 34.77,315.26 31.27,311.76" fill="#3555b7"/><polygon points="54.58,269.09 58.08,272.59 54.58,276.09 51.08,272.59" fill="#3555b7"/><polygon points="90.18,245.7 93.68,249.2 90.18,252.7 86.68,249.2" fill="#3555b7"/><polygon points="107.43,230.74 110.93,234.24 107.43,237.74 103.93,234.24" fill="#3555b7"/><polygon points="170.7,232.1 174.2,235.6 170.7,239.1 167.2,235.6" fill="#3555b7"/><polygon points="44.46,318.07 47.26,320.87 44.46,323.67 41.66,320.87" fill="#fff" stroke="#3555b7" stroke-width="1.1"/><polygon points="78.22,239.19 81.02,241.99 78.22,244.79 75.42,241.99" fill="#fff" stroke="#3555b7" stroke-width="1.1"/><polygon points="101.93,233.48 104.73,236.28 101.93,239.08 99.13,236.28" fill="#fff" stroke="#3555b7" stroke-width="1.1"/><polygon points="137.89,232.53 140.69,235.33 137.89,238.13 135.09,235.33" fill="#fff" stroke="#3555b7" stroke-width="1.1"/><polygon points="207.26,236.61 210.06,239.41 207.26,242.21 204.46,239.41" fill="#fff" stroke="#3555b7" stroke-width="1.1"/><circle cx="34.4" cy="348.48" r="2.9" fill="#3555b7"/><circle cx="36.97" cy="330.12" r="2.9" fill="#3555b7"/><circle cx="40.71" cy="292.86" r="2.9" fill="#3555b7"/><circle cx="63.76" cy="272.18" r="2.9" fill="#3555b7"/><circle cx="94.59" cy="259.94" r="2.9" fill="#3555b7"/><circle cx="128.35" cy="250.97" r="2.9" fill="#3555b7"/><polygon points="134,279.4 136.4,281.8 134,284.2 131.6,281.8" fill="#3555b7"/><text x="146" y="284.4" font-family="Liberation Sans" font-size="7.8" fill="#111" stroke="#111" stroke-width="0.25" textLength="78.5" lengthAdjust="spacingAndGlyphs">Cu onto Mt-CP-SR(1CEC)</text><line x1="123.3" y1="294.8" x2="143.8" y2="294.8" stroke="#3555b7" stroke-width="1.3"/><text x="146" y="297.4" font-family="Liberation Sans" font-size="7.8" fill="#111" stroke="#111" stroke-width="0.25" textLength="34" lengthAdjust="spacingAndGlyphs">Freundlich</text><polygon points="134,305.6 136.2,307.8 134,310 131.8,307.8" fill="#fff" stroke="#3555b7" stroke-width="1.1"/><text x="146" y="310.4" font-family="Liberation Sans" font-size="7.8" fill="#111" stroke="#111" stroke-width="0.25" textLength="84.5" lengthAdjust="spacingAndGlyphs">Cu onto Mt-CP-SR(0.7CEC)</text><line x1="123.3" y1="320.8" x2="143.8" y2="320.8" stroke="#3555b7" stroke-width="1.3" stroke-dasharray="5.5 2.5 1.6 2.5"/><text x="146" y="323.4" font-family="Liberation Sans" font-size="7.8" fill="#111" stroke="#111" stroke-width="0.25" textLength="29.6" lengthAdjust="spacingAndGlyphs">Langmuir</text><circle cx="134" cy="333.8" r="2.1" fill="#3555b7"/><text x="146" y="336.4" font-family="Liberation Sans" font-size="7.8" fill="#111" stroke="#111" stroke-width="0.25" textLength="36.6" lengthAdjust="spacingAndGlyphs">Cu onto Mt</text><line x1="123.3" y1="346.8" x2="143.8" y2="346.8" stroke="#3555b7" stroke-width="1.3" stroke-dasharray="3 1.2"/><text x="146" y="349.4" font-family="Liberation Sans" font-size="7.8" fill="#111" stroke="#111" stroke-width="0.25" textLength="29.6" lengthAdjust="spacingAndGlyphs">Langmuir</text>
<text x="299.3" y="176.6" font-family="Liberation Sans" font-weight="bold" font-size="13.4" fill="#111" textLength="16.4" lengthAdjust="spacingAndGlyphs">(c)</text><path d="M319.3,205 H540.2 V368.3" fill="none" stroke="#222" stroke-width="1.1"/><path d="M319.3,204.5 V368.3 H540.7" fill="none" stroke="#7a7a7a" stroke-width="1.3"/><line x1="317.1" y1="368.3" x2="319.3" y2="368.3" stroke="#7a7a7a" stroke-width="0.8"/><text x="311.6" y="371" text-anchor="end" font-family="Liberation Sans" font-size="7.6" fill="#111" stroke="#111" stroke-width="0.28">0</text><line x1="317.1" y1="341.08" x2="319.3" y2="341.08" stroke="#7a7a7a" stroke-width="0.8"/><text x="311.6" y="343.78" text-anchor="end" font-family="Liberation Sans" font-size="7.6" fill="#111" stroke="#111" stroke-width="0.28">2</text><line x1="317.1" y1="313.87" x2="319.3" y2="313.87" stroke="#7a7a7a" stroke-width="0.8"/><text x="311.6" y="316.57" text-anchor="end" font-family="Liberation Sans" font-size="7.6" fill="#111" stroke="#111" stroke-width="0.28">4</text><line x1="317.1" y1="286.65" x2="319.3" y2="286.65" stroke="#7a7a7a" stroke-width="0.8"/><text x="311.6" y="289.35" text-anchor="end" font-family="Liberation Sans" font-size="7.6" fill="#111" stroke="#111" stroke-width="0.28">6</text><line x1="317.1" y1="259.43" x2="319.3" y2="259.43" stroke="#7a7a7a" stroke-width="0.8"/><text x="311.6" y="262.13" text-anchor="end" font-family="Liberation Sans" font-size="7.6" fill="#111" stroke="#111" stroke-width="0.28">8</text><line x1="317.1" y1="232.22" x2="319.3" y2="232.22" stroke="#7a7a7a" stroke-width="0.8"/><text x="311.6" y="234.92" text-anchor="end" font-family="Liberation Sans" font-size="7.6" fill="#111" stroke="#111" stroke-width="0.28" textLength="7.2" lengthAdjust="spacingAndGlyphs">10</text><line x1="317.1" y1="205" x2="319.3" y2="205" stroke="#7a7a7a" stroke-width="0.8"/><text x="311.6" y="207.7" text-anchor="end" font-family="Liberation Sans" font-size="7.6" fill="#111" stroke="#111" stroke-width="0.28" textLength="7.2" lengthAdjust="spacingAndGlyphs">12</text><line x1="319.3" y1="368.3" x2="319.3" y2="370.3" stroke="#7a7a7a" stroke-width="0.8"/><text x="319.3" y="382.5" text-anchor="middle" font-family="Liberation Sans" font-size="7.6" fill="#111" stroke="#111" stroke-width="0.28">0</text><line x1="363.48" y1="368.3" x2="363.48" y2="370.3" stroke="#7a7a7a" stroke-width="0.8"/><text x="363.48" y="382.5" text-anchor="middle" font-family="Liberation Sans" font-size="7.6" fill="#111" stroke="#111" stroke-width="0.28" textLength="7.2" lengthAdjust="spacingAndGlyphs">50</text><line x1="407.66" y1="368.3" x2="407.66" y2="370.3" stroke="#7a7a7a" stroke-width="0.8"/><text x="407.66" y="382.5" text-anchor="middle" font-family="Liberation Sans" font-size="7.6" fill="#111" stroke="#111" stroke-width="0.28" textLength="10.8" lengthAdjust="spacingAndGlyphs">100</text><line x1="451.84" y1="368.3" x2="451.84" y2="370.3" stroke="#7a7a7a" stroke-width="0.8"/><text x="451.84" y="382.5" text-anchor="middle" font-family="Liberation Sans" font-size="7.6" fill="#111" stroke="#111" stroke-width="0.28" textLength="10.8" lengthAdjust="spacingAndGlyphs">150</text><line x1="496.02" y1="368.3" x2="496.02" y2="370.3" stroke="#7a7a7a" stroke-width="0.8"/><text x="496.02" y="382.5" text-anchor="middle" font-family="Liberation Sans" font-size="7.6" fill="#111" stroke="#111" stroke-width="0.28" textLength="10.8" lengthAdjust="spacingAndGlyphs">200</text><line x1="540.2" y1="368.3" x2="540.2" y2="370.3" stroke="#7a7a7a" stroke-width="0.8"/><text x="540.2" y="382.5" text-anchor="middle" font-family="Liberation Sans" font-size="7.6" fill="#111" stroke="#111" stroke-width="0.28" textLength="10.8" lengthAdjust="spacingAndGlyphs">250</text><text transform="translate(299,300.8) rotate(-90)" font-family="Liberation Sans" font-weight="bold" font-size="7.6" fill="#000" stroke="#000" stroke-width="0.3" textLength="41" lengthAdjust="spacingAndGlyphs">qeq (mg/g)</text><text x="411.8" y="395.2" font-family="Liberation Sans" font-weight="bold" font-size="7.6" fill="#000" stroke="#000" stroke-width="0.3" textLength="34.8" lengthAdjust="spacingAndGlyphs">Ceq (mg/L)</text><path d="M319.3,368.3 L319.53,362.5 L319.75,356.93 L319.98,351.61 L320.21,346.57 L320.43,341.83 L320.66,337.34 L320.89,333.05 L321.11,328.9 L321.34,324.84 L321.57,320.77 L321.79,316.6 L322.02,312.55 L322.25,308.87 L322.47,305.81 L322.7,303.33 L322.93,301.16 L323.15,299.2 L323.38,297.4 L323.6,295.67 L323.83,293.96 L324.06,292.27 L324.28,290.64 L324.51,289.1 L324.74,287.67 L324.96,286.38 L325.19,285.23 L325.42,284.15 L325.64,283.13 L325.87,282.16 L326.1,281.23 L326.32,280.35 L326.55,279.5 L326.78,278.68 L327,277.88 L327.23,277.1 L327.46,276.32 L327.68,275.56 L327.91,274.79 L328.14,274.04 L328.14,274.04 L330.26,267.74 L332.39,261.98 L334.51,257.17 L336.64,253.52 L338.76,250.54 L340.89,248.19 L343.01,246.28 L345.14,244.72 L347.26,243.49 L349.39,242.47 L351.51,241.54 L353.64,240.61 L355.76,239.69 L357.89,238.82 L360.01,238.03 L362.14,237.34 L364.26,236.74 L366.39,236.19 L368.51,235.69 L370.64,235.25 L372.76,234.86 L374.89,234.52 L377.01,234.22 L379.14,233.94 L381.26,233.68 L383.39,233.43 L385.51,233.17 L387.64,232.91 L389.76,232.65 L391.89,232.39 L394.01,232.14 L396.14,231.89 L398.26,231.65 L400.39,231.44 L402.51,231.24 L404.64,231.06 L406.77,230.91 L408.89,230.79 L411.02,230.67 L413.14,230.56 L415.27,230.46 L417.39,230.36 L419.52,230.27 L421.64,230.18 L423.77,230.1 L425.89,230.02 L428.02,229.94 L430.14,229.87 L432.27,229.8 L434.39,229.73 L436.52,229.67 L438.64,229.61 L440.77,229.54 L442.89,229.48 L445.02,229.42 L447.14,229.36 L449.27,229.3 L451.39,229.24 L453.52,229.17 L455.64,229.11 L457.77,229.05 L459.89,228.99 L462.02,228.93 L464.14,228.87 L466.27,228.82 L468.39,228.76 L470.52,228.7 L472.64,228.65 L474.77,228.6 L476.89,228.54 L479.02,228.49 L481.14,228.44 L483.27,228.4 L485.39,228.35 L487.52,228.3 L489.64,228.26 L491.77,228.22 L493.89,228.17 L496.02,228.13 " fill="none" stroke="#8f1a1f" stroke-width="1.5" stroke-linejoin="round"/><path d="M319.3,368.3 L319.53,366.26 L319.75,364.24 L319.98,362.25 L320.21,360.3 L320.43,358.4 L320.66,356.57 L320.89,354.81 L321.11,353.14 L321.34,351.57 L321.57,350.1 L321.79,348.75 L322.02,347.53 L322.25,346.38 L322.47,345.28 L322.7,344.22 L322.93,343.2 L323.15,342.22 L323.38,341.27 L323.6,340.36 L323.83,339.48 L324.06,338.63 L324.28,337.8 L324.51,336.99 L324.74,336.2 L324.96,335.43 L325.19,334.68 L325.42,333.93 L325.64,333.19 L325.87,332.46 L326.1,331.74 L326.32,331.01 L326.55,330.28 L326.78,329.55 L327,328.8 L327.23,328.05 L327.46,327.3 L327.68,326.55 L327.91,325.8 L328.14,325.06 L328.14,325.06 L330.21,318.49 L332.27,312.85 L334.34,308.51 L336.41,304.81 L338.48,301.58 L340.55,298.66 L342.62,295.95 L344.69,293.48 L346.76,291.27 L348.83,289.32 L350.9,287.58 L352.97,285.99 L355.04,284.51 L357.1,283.1 L359.17,281.77 L361.24,280.52 L363.31,279.32 L365.38,278.13 L367.45,276.92 L369.52,275.66 L371.59,274.38 L373.66,273.13 L375.73,271.95 L377.8,270.87 L379.87,269.87 L381.93,268.93 L384,268.05 L386.07,267.21 L388.14,266.41 L390.21,265.69 L392.28,265.02 L394.35,264.31 L396.42,263.5 L398.49,262.62 L400.56,261.67 L402.63,260.68 L404.7,259.69 L406.77,258.7 L408.83,257.74 L410.9,256.83 L412.97,255.98 L415.04,255.15 L417.11,254.33 L419.18,253.53 L421.25,252.74 L423.32,251.97 L425.39,251.2 L427.46,250.45 L429.53,249.71 L431.6,248.97 L433.66,248.25 L435.73,247.54 L437.8,246.85 L439.87,246.16 L441.94,245.48 L444.01,244.81 L446.08,244.14 L448.15,243.47 L450.22,242.8 L452.29,242.13 L454.36,241.45 L456.43,240.76 L458.49,240.07 L460.56,239.36 L462.63,238.65 L464.7,237.92 L466.77,237.2 L468.84,236.46 L470.91,235.73 L472.98,234.99 L475.05,234.24 L477.12,233.49 L479.19,232.74 L481.26,231.98 L483.33,231.22 L485.39,230.45 L487.46,229.69 L489.53,228.91 L491.6,228.13 " fill="none" stroke="#8f1a1f" stroke-width="1.5" stroke-dasharray="5.5 2.5 1.6 2.5" stroke-linejoin="round"/><path d="M319.3,368.3 L319.53,365.57 L319.75,362.91 L319.98,360.31 L320.21,357.77 L320.43,355.31 L320.66,352.92 L320.89,350.6 L321.11,348.37 L321.34,346.22 L321.57,344.15 L321.79,342.17 L322.02,340.28 L322.25,338.48 L322.47,336.79 L322.7,335.19 L322.93,333.69 L323.15,332.26 L323.38,330.9 L323.6,329.59 L323.83,328.34 L324.06,327.14 L324.28,326 L324.51,324.9 L324.74,323.85 L324.96,322.85 L325.19,321.88 L325.42,320.95 L325.64,320.06 L325.87,319.2 L326.1,318.35 L326.32,317.51 L326.55,316.7 L326.78,315.89 L327,315.11 L327.23,314.34 L327.46,313.59 L327.68,312.85 L327.91,312.13 L328.14,311.42 L328.14,311.42 L329.7,306.97 L331.27,303.27 L332.83,300.2 L334.4,297.53 L335.97,295.17 L337.53,293.01 L339.1,290.95 L340.66,289.01 L342.23,287.19 L343.79,285.49 L345.36,283.88 L346.93,282.34 L348.49,280.81 L350.06,279.31 L351.62,277.91 L353.19,276.68 L354.76,275.7 L356.32,274.9 L357.89,274.18 L359.45,273.52 L361.02,272.93 L362.59,272.38 L364.15,271.87 L365.72,271.39 L367.28,270.92 L368.85,270.47 L370.41,270.05 L371.98,269.66 L373.55,269.28 L375.11,268.91 L376.68,268.56 L378.24,268.22 L379.81,267.89 L381.38,267.55 L382.94,267.21 L384.51,266.86 L386.07,266.52 L387.64,266.18 L389.21,265.86 L390.77,265.56 L392.34,265.29 L393.9,265.05 L395.47,264.86 L397.03,264.69 L398.6,264.53 L400.17,264.38 L401.73,264.23 L403.3,264.1 L404.86,263.98 L406.43,263.86 L408,263.75 L409.56,263.65 L411.13,263.55 L412.69,263.45 L414.26,263.36 L415.82,263.28 L417.39,263.2 L418.96,263.11 L420.52,263.03 L422.09,262.95 L423.65,262.88 L425.22,262.8 L426.79,262.72 L428.35,262.65 L429.92,262.58 L431.48,262.51 L433.05,262.44 L434.62,262.38 L436.18,262.31 L437.75,262.25 L439.31,262.2 L440.88,262.15 L442.44,262.1 L444.01,262.05 L445.58,262.01 L447.14,261.97 L448.71,261.94 L450.27,261.91 L451.84,261.88 " fill="none" stroke="#8f1a1f" stroke-width="1.5" stroke-dasharray="3.2 1.5" stroke-linejoin="round"/><path d="M326.63,262.56 V270.73 M324.63,262.56 H328.63 M324.63,270.73 H328.63" fill="none" stroke="#707070" stroke-width="0.8"/><path d="M351.55,232.9 V245.14 M349.55,232.9 H353.55 M349.55,245.14 H353.55" fill="none" stroke="#707070" stroke-width="0.8"/><path d="M407.93,220.65 V232.9 M405.93,220.65 H409.93 M405.93,232.9 H409.93" fill="none" stroke="#707070" stroke-width="0.8"/><path d="M455.11,230.45 V241.33 M453.11,230.45 H457.11 M453.11,241.33 H457.11" fill="none" stroke="#707070" stroke-width="0.8"/><path d="M491.16,221.47 V235.07 M489.16,221.47 H493.16 M489.16,235.07 H493.16" fill="none" stroke="#707070" stroke-width="0.8"/><path d="M342.45,287.6 V294.41 M340.45,287.6 H344.45 M340.45,294.41 H344.45" fill="none" stroke="#707070" stroke-width="0.8"/><path d="M380.62,268.96 V277.12 M378.62,268.96 H382.62 M378.62,277.12 H382.62" fill="none" stroke="#707070" stroke-width="0.8"/><path d="M411.11,243.65 V254.53 M409.11,243.65 H413.11 M409.11,254.53 H413.11" fill="none" stroke="#707070" stroke-width="0.8"/><path d="M438.59,244.87 V255.76 M436.59,244.87 H440.59 M436.59,255.76 H440.59" fill="none" stroke="#707070" stroke-width="0.8"/><path d="M461.56,234.67 V246.91 M459.56,234.67 H463.56 M459.56,246.91 H463.56" fill="none" stroke="#707070" stroke-width="0.8"/><path d="M491.16,222.01 V235.62 M489.16,222.01 H493.16 M489.16,235.62 H493.16" fill="none" stroke="#707070" stroke-width="0.8"/><path d="M331.67,293.45 V298.9 M329.67,293.45 H333.67 M329.67,298.9 H333.67" fill="none" stroke="#707070" stroke-width="0.8"/><path d="M360.83,274.13 V280.93 M358.83,274.13 H362.83 M358.83,280.93 H362.83" fill="none" stroke="#707070" stroke-width="0.8"/><path d="M400.59,262.84 V271 M398.59,262.84 H402.59 M398.59,271 H402.59" fill="none" stroke="#707070" stroke-width="0.8"/><path d="M441.41,253.72 V261.88 M439.41,253.72 H443.41 M439.41,261.88 H443.41" fill="none" stroke="#707070" stroke-width="0.8"/><rect x="316.8" y="365.8" width="5" height="5" fill="#8f1a1f"/><rect x="319.72" y="308.78" width="5" height="5" fill="#8f1a1f"/><rect x="324.13" y="264.15" width="5" height="5" fill="#8f1a1f"/><rect x="349.05" y="236.52" width="5" height="5" fill="#8f1a1f"/><rect x="405.43" y="224.27" width="5" height="5" fill="#8f1a1f"/><rect x="452.61" y="233.39" width="5" height="5" fill="#8f1a1f"/><rect x="488.66" y="225.77" width="5" height="5" fill="#8f1a1f"/><rect x="322.58" y="323.37" width="4.4" height="4.4" fill="#fff" stroke="#8f1a1f" stroke-width="1.1"/><rect x="340.25" y="288.8" width="4.4" height="4.4" fill="#fff" stroke="#8f1a1f" stroke-width="1.1"/><rect x="378.42" y="270.84" width="4.4" height="4.4" fill="#fff" stroke="#8f1a1f" stroke-width="1.1"/><rect x="408.91" y="246.89" width="4.4" height="4.4" fill="#fff" stroke="#8f1a1f" stroke-width="1.1"/><rect x="436.39" y="248.12" width="4.4" height="4.4" fill="#fff" stroke="#8f1a1f" stroke-width="1.1"/><rect x="459.36" y="238.59" width="4.4" height="4.4" fill="#fff" stroke="#8f1a1f" stroke-width="1.1"/><rect x="488.96" y="226.61" width="4.4" height="4.4" fill="#fff" stroke="#8f1a1f" stroke-width="1.1"/><circle cx="320.8" cy="349.25" r="2.9" fill="#8f1a1f"/><circle cx="322.83" cy="330.47" r="2.9" fill="#8f1a1f"/><circle cx="331.67" cy="296.18" r="2.9" fill="#8f1a1f"/><circle cx="360.83" cy="277.53" r="2.9" fill="#8f1a1f"/><circle cx="400.59" cy="266.92" r="2.9" fill="#8f1a1f"/><circle cx="441.41" cy="257.8" r="2.9" fill="#8f1a1f"/><rect x="425.2" y="283" width="3.6" height="3.6" fill="#8f1a1f"/><text x="440" y="287.4" font-family="Liberation Sans" font-size="7.8" fill="#111" stroke="#111" stroke-width="0.25" textLength="75.6" lengthAdjust="spacingAndGlyphs">Zn onto Mt-CP-SR(1CEC)</text><line x1="417" y1="299.3" x2="436.8" y2="299.3" stroke="#8f1a1f" stroke-width="1.3"/><text x="440" y="301.9" font-family="Liberation Sans" font-size="7.8" fill="#111" stroke="#111" stroke-width="0.25" textLength="28.5" lengthAdjust="spacingAndGlyphs">Langmuir</text><rect x="425.3" y="312.1" width="3.4" height="3.4" fill="#fff" stroke="#8f1a1f" stroke-width="1.1"/><text x="440" y="316.4" font-family="Liberation Sans" font-size="7.8" fill="#111" stroke="#111" stroke-width="0.25" textLength="81.6" lengthAdjust="spacingAndGlyphs">Zn onto Mt-CP-SR(0.7CEC)</text><line x1="417" y1="328.3" x2="436.8" y2="328.3" stroke="#8f1a1f" stroke-width="1.3" stroke-dasharray="5.5 2.5 1.6 2.5"/><text x="440" y="330.9" font-family="Liberation Sans" font-size="7.8" fill="#111" stroke="#111" stroke-width="0.25" textLength="33" lengthAdjust="spacingAndGlyphs">Freundlich</text><circle cx="427" cy="342.8" r="2.1" fill="#8f1a1f"/><text x="440" y="345.4" font-family="Liberation Sans" font-size="7.8" fill="#111" stroke="#111" stroke-width="0.25" textLength="35.4" lengthAdjust="spacingAndGlyphs">Zn onto Mt</text><line x1="417" y1="357.3" x2="436.8" y2="357.3" stroke="#8f1a1f" stroke-width="1.3" stroke-dasharray="3 1.2"/><text x="440" y="359.9" font-family="Liberation Sans" font-size="7.8" fill="#111" stroke="#111" stroke-width="0.25" textLength="28.5" lengthAdjust="spacingAndGlyphs">Langmuir</text>
</svg>
</body></html>
